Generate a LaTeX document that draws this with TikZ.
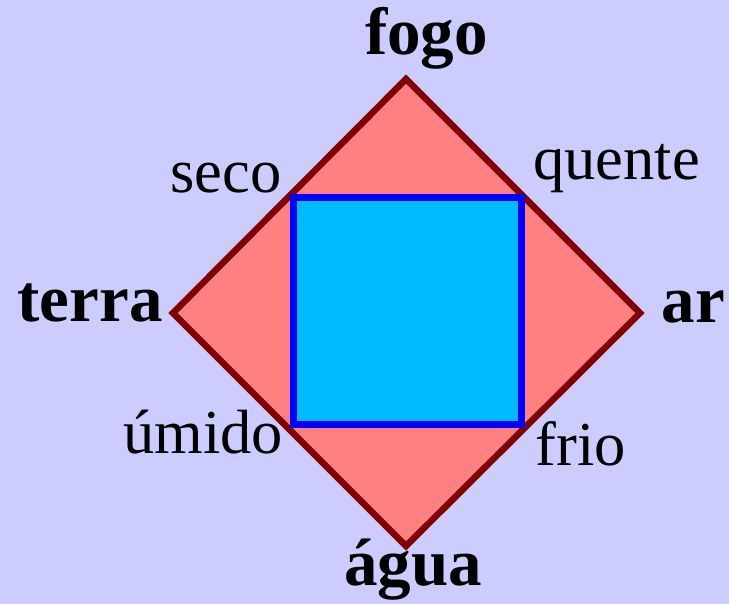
\documentclass[tikz,border=0pt]{standalone}
\usepackage{fontspec}
\setmainfont{Liberation Serif}
\definecolor{lavanda}{HTML}{CCCCFF}
\definecolor{salmao}{HTML}{FF8080}
\definecolor{vinho}{HTML}{800000}
\definecolor{ceu}{HTML}{00BBFF}

\begin{document}
\begin{tikzpicture}[
    x=1pt, y=-1pt,
    elem/.style={inner sep=0pt, anchor=base, font=\fontsize{67}{70}\selectfont\bfseries},
    qual/.style={inner sep=0pt, anchor=base, font=\fontsize{62.5}{66}\selectfont},
    losango/.style={draw=vinho, fill=salmao, line width=6.5pt, line join=miter},
    quadrado/.style={draw=blue, fill=ceu, line width=7pt, line join=miter}
]
\fill [lavanda] (0,0) rectangle (729,604);
\useasboundingbox (0,0) rectangle (729,604);

% cantos do losango
\coordinate (top) at (406,79);
\coordinate (right) at (640,313);
\coordinate (bottom) at (406,546);
\coordinate (left) at (173,313);
% cantos do quadrado
\coordinate (nw) at (293,198);
\coordinate (ne) at (521,198);
\coordinate (se) at (521,424);
\coordinate (sw) at (293,424);

\draw [losango] (top) -- (right) -- (bottom) -- (left) -- cycle;
\draw [quadrado] (nw) -- (ne) -- (se) -- (sw) -- cycle;

\node (fogo) [elem] at (426.5,55) {fogo};
\node (terra) [elem] at (90,322) {terra};
\node (ar) [elem] at (693.5,323) {ar};
\node (agua) [elem] at (413,585) {água};

\node (seco) [qual] at (226,193) {seco};
\node (quente) [qual] at (616.5,180) {quente};
\node (umido) [qual] at (203,453) {úmido};
\node (frio) [qual] at (581,465) {frio};

\end{tikzpicture}
\end{document}
